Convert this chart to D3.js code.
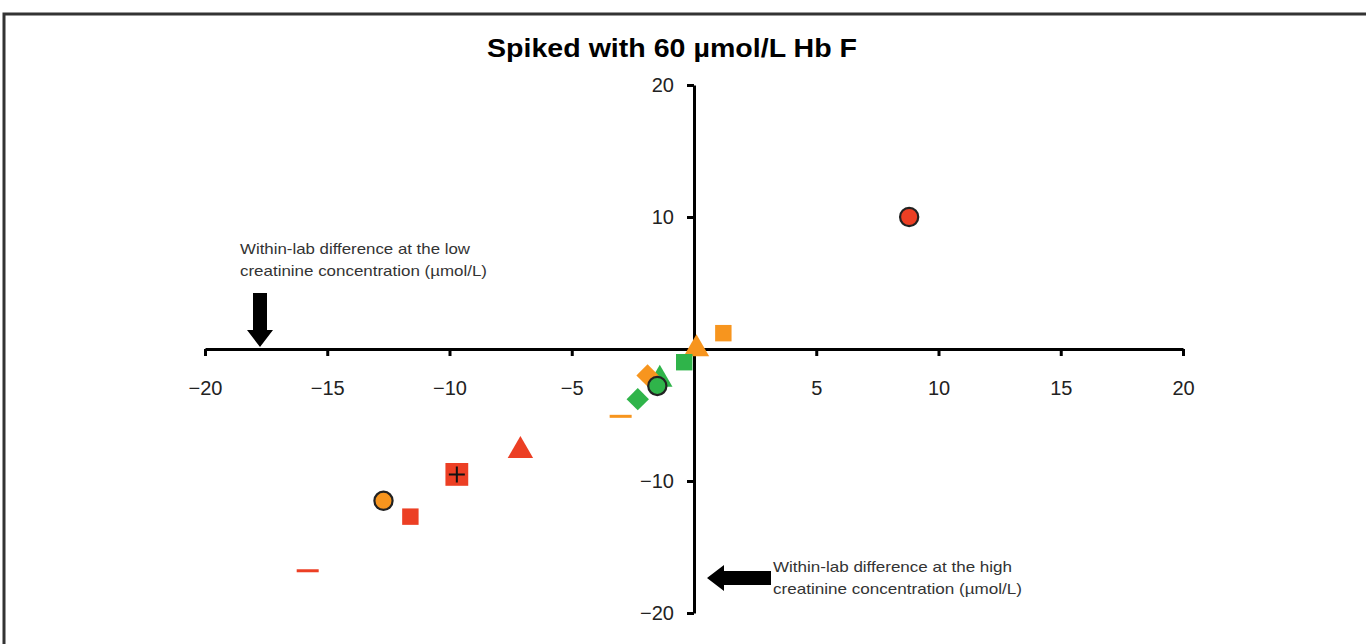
<!DOCTYPE html>
<html>
<head>
<meta charset="utf-8">
<title>Spiked with 60 µmol/L Hb F</title>
<script src="https://d3js.org/d3.v7.min.js"></script>
<style>
  body { margin: 0; background: #fff; }
  svg text { font-family: "Liberation Sans", Arial, sans-serif; }
  .axis path, .axis line { stroke: #000; stroke-width: 3; }
  .axis text { font-size: 20px; fill: #222; }
  .note { font-size: 15px; fill: #333; }
</style>
</head>
<body>
<script>
// values
var xs     = [8.8, 1.2, 0.1, -0.4, -1.4, -1.9, -1.5, -2.3, -3.0, -7.1, -9.7, -12.7, -11.6, -15.8];
var ys     = [10.0, 1.2, 0.0, -1.0, -2.3, -2.0, -2.8, -3.8, -5.1, -7.7, -9.5, -11.5, -12.7, -16.8];
var shapes = ["circle", "square", "triangle", "square", "triangle", "diamond", "circle", "diamond", "dash", "triangle", "plusSquare", "circle", "square", "dash"];
var fills  = ["red", "orange", "orange", "green", "green", "orange", "green", "green", "orange", "red", "red", "orange", "red", "red"];
var xTicks = [-20, -15, -10, -5, 5, 10, 15, 20];
var yTicks = [20, 10, -10, -20];

var palette = { red: "#ec3f24", orange: "#f7951e", green: "#2fb44a" };

var width = 1366, height = 644;
var svg = d3.select("body").append("svg")
    .attr("width", width)
    .attr("height", height);

// frame round the figure
svg.append("path")
    .attr("d", "M4," + height + " V14 H" + width)
    .attr("fill", "none")
    .attr("stroke", "#333")
    .attr("stroke-width", 3);

svg.append("text")
    .attr("x", 487)
    .attr("y", 57)
    .attr("textLength", 370)
    .attr("lengthAdjust", "spacingAndGlyphs")
    .style("font-size", "25px")
    .style("font-weight", "bold")
    .text("Spiked with 60 µmol/L Hb F");

var x = d3.scaleLinear().domain([-20, 20]).range([205, 1183]);
var y = d3.scaleLinear().domain([-20, 20]).range([613, 85]);

var xAxis = d3.axisBottom(x).tickValues(xTicks).tickSize(7).tickSizeOuter(0).tickPadding(25);
var yAxis = d3.axisLeft(y).tickValues(yTicks).tickSize(7).tickSizeOuter(0).tickPadding(13);

svg.append("g")
    .attr("class", "axis")
    .attr("transform", "translate(0," + y(0) + ")")
    .call(xAxis);

svg.append("g")
    .attr("class", "axis")
    .attr("transform", "translate(" + x(0) + ",0)")
    .call(yAxis);

svg.selectAll(".axis .domain").attr("stroke-width", 3.5);

// markers
var sym = {
  circle: d3.symbol().type(d3.symbolCircle).size(260),
  square: d3.symbol().type(d3.symbolSquare).size(270),
  plusSquare: d3.symbol().type(d3.symbolSquare).size(520),
  triangle: d3.symbol().type(d3.symbolTriangle).size(280),
  diamond: d3.symbol().type(d3.symbolSquare).size(250)
};

var pts = xs.map(function(d, i) {
  return { x: d, y: ys[i], shape: shapes[i], fill: palette[fills[i]] };
});

var g = svg.append("g");
pts.forEach(function(p) {
  var cx = x(p.x), cy = y(p.y);
  if (p.shape === "dash") {
    g.append("rect")
      .attr("x", cx - 11).attr("y", cy - 1.5)
      .attr("width", 22).attr("height", 3)
      .attr("fill", p.fill);
    return;
  }
  var m = g.append("path")
    .attr("d", sym[p.shape]())
    .attr("fill", p.fill)
    .attr("transform", "translate(" + cx + "," + cy + ")" + (p.shape === "diamond" ? " rotate(45)" : ""));
  if (p.shape === "circle") m.attr("stroke", "#222").attr("stroke-width", 2.2);
  if (p.shape === "plusSquare") {
    g.append("path")
      .attr("d", "M" + (cx - 8) + "," + cy + "H" + (cx + 8) + "M" + cx + "," + (cy - 8) + "V" + (cy + 8))
      .attr("stroke", "#111")
      .attr("stroke-width", 2);
  }
});

// arrows and notes
function arrow(x0, y0, x1, y1) {
  var ang = Math.atan2(y1 - y0, x1 - x0) * 180 / Math.PI;
  var len = Math.hypot(x1 - x0, y1 - y0);
  svg.append("path")
    .attr("d", "M0,-7 H" + (len - 17) + " V-13 L" + len + ",0 L" + (len - 17) + ",13 V7 H0 Z")
    .attr("fill", "#000")
    .attr("transform", "translate(" + x0 + "," + y0 + ") rotate(" + ang + ")");
}
arrow(260, 293, 260, 347);
arrow(771, 578, 707, 578);

function note(x0, y0, lines, lens) {
  var t = svg.append("text").attr("class", "note").attr("x", x0).attr("y", y0);
  lines.forEach(function(s, i) {
    t.append("tspan")
      .attr("x", x0)
      .attr("dy", i ? 22 : 0)
      .attr("textLength", lens[i])
      .attr("lengthAdjust", "spacingAndGlyphs")
      .text(s);
  });
}
note(240, 254, ["Within-lab difference at the low", "creatinine concentration (µmol/L)"], [230, 247]);
note(773, 572, ["Within-lab difference at the high", "creatinine concentration (µmol/L)"], [239, 249]);
</script>
</body>
</html>
